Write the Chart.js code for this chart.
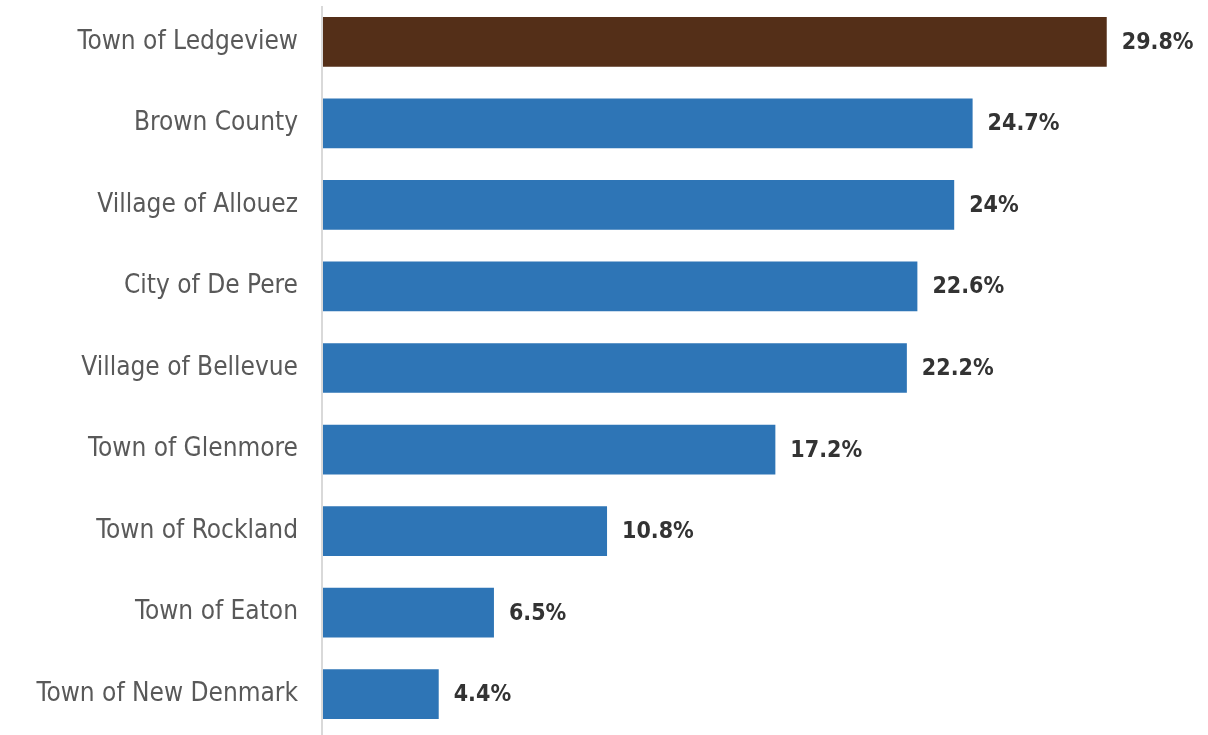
<!DOCTYPE html>
<html>
<head>
<meta charset="utf-8">
<script src="https://cdn.jsdelivr.net/npm/chart.js@4"></script>
<style>
  html, body { margin: 0; padding: 0; background: #fff; }
  #wrap { width: 1208px; height: 735px; }
</style>
</head>
<body>
<div id="wrap"><canvas id="barChart"></canvas></div>
<script>
// Dados
const places = ['Town of Ledgeview','Brown County','Village of Allouez','City of De Pere','Village of Bellevue','Town of Glenmore','Town of Rockland','Town of Eaton','Town of New Denmark'];
const shares = [29.8, 24.7, 24, 22.6, 22.2, 17.2, 10.8, 6.5, 4.4];
const barColors = ['#542F18','#2E75B6','#2E75B6','#2E75B6','#2E75B6','#2E75B6','#2E75B6','#2E75B6','#2E75B6'];

const font = '"DejaVu Sans Condensed", "DejaVu Sans", sans-serif';

// Linha do eixo + rótulos de valor no fim de cada barra
const valueLabels = {
  id: 'valueLabels',
  beforeDatasetsDraw(chart) {
    const ctx = chart.ctx;
    const left = chart.chartArea.left;
    ctx.save();
    ctx.strokeStyle = '#d9d9d9';
    ctx.lineWidth = 2;
    ctx.beginPath();
    ctx.moveTo(left - 1, 6);
    ctx.lineTo(left - 1, chart.height);
    ctx.stroke();
    ctx.restore();
  },
  afterDatasetsDraw(chart) {
    const ctx = chart.ctx;
    const meta = chart.getDatasetMeta(0);
    ctx.save();
    ctx.font = 'bold 23px ' + font;
    ctx.fillStyle = '#333333';
    ctx.textBaseline = 'middle';
    ctx.textAlign = 'left';
    meta.data.forEach((bar, i) => {
      ctx.fillText(shares[i] + '%', bar.x + 15, bar.y + 1);
    });
    ctx.restore();
  }
};

new Chart(document.getElementById('barChart'), {
  type: 'bar',
  data: {
    labels: places,
    datasets: [{ data: shares, backgroundColor: barColors, barPercentage: 0.61, categoryPercentage: 1 }]
  },
  options: {
    indexAxis: 'y',
    responsive: true,
    maintainAspectRatio: false,
    animation: false,
    layout: { padding: { top: 1, right: 96, left: 0, bottom: 0 } },
    plugins: { legend: { display: false }, tooltip: { enabled: false } },
    scales: {
      x: {
        min: 0, max: 30,
        display: false
      },
      y: {
        afterFit: (scale) => {
          scale.width = 323;
          scale.paddingTop = 0;
          scale.paddingBottom = 0;
        },
        grid: { display: false, drawTicks: false },
        border: { display: false },
        ticks: { color: '#595959', padding: 25, font: { family: font, size: 26 } }
      }
    }
  },
  plugins: [valueLabels]
});
</script>
</body>
</html>
